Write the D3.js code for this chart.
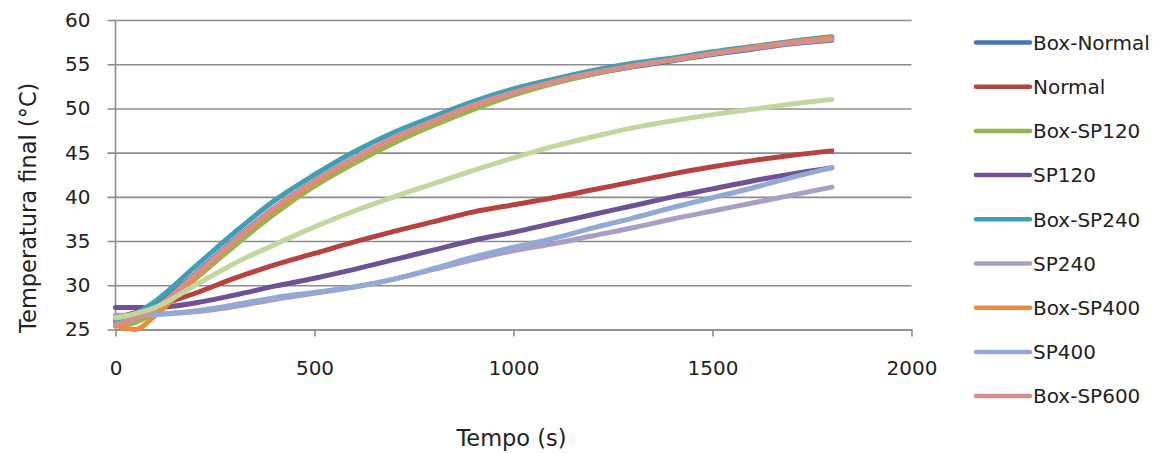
<!DOCTYPE html>
<html>
<head>
<meta charset="utf-8">
<script src="https://cdn.jsdelivr.net/npm/d3@7"></script>
<style>
    body { margin: 0; background: #fff; }
    #chart { width: 1166px; height: 454px; }
    text { font-family: "DejaVu Sans", sans-serif; fill: #222; }
</style>
</head>
<body>
<div id="chart"></div>
<script>

// time (s)
let times = [0, 50, 100, 200, 300, 400, 500, 600, 700, 800, 900, 1000, 1100, 1200, 1300, 1400, 1500, 1600, 1700, 1800]

// temperatures (°C)
let boxNormal = [25.7, 26.3, 27.6, 31.3, 35.2, 38.8, 41.8, 44.4, 46.6, 48.5, 50.2, 51.7, 52.9, 53.9, 54.7, 55.4, 56.1, 56.7, 57.3, 57.7]
let normal    = [26.3, 26.9, 27.6, 29.1, 30.8, 32.3, 33.6, 34.9, 36.1, 37.2, 38.3, 39.1, 39.9, 40.8, 41.7, 42.6, 43.4, 44.1, 44.7, 45.2]
let boxSP120  = [25.4, 25.8, 27.0, 30.7, 34.5, 38.1, 41.2, 43.8, 46.1, 48.1, 49.9, 51.5, 52.8, 53.9, 54.8, 55.5, 56.2, 56.9, 57.5, 58.0]
let sp120     = [27.5, 27.5, 27.5, 28.0, 28.9, 29.9, 30.8, 31.8, 32.9, 34.0, 35.1, 36.0, 37.0, 38.0, 39.0, 40.0, 40.9, 41.8, 42.6, 43.3]
let boxSP240  = [26.0, 26.8, 28.2, 32.1, 36.0, 39.6, 42.5, 45.1, 47.3, 49.1, 50.8, 52.2, 53.3, 54.3, 55.1, 55.7, 56.4, 57.0, 57.6, 58.1]
let sp240     = [26.6, 26.6, 26.7, 27.0, 27.6, 28.4, 29.1, 29.8, 30.7, 31.8, 32.9, 33.9, 34.7, 35.6, 36.5, 37.5, 38.4, 39.3, 40.2, 41.1]
let boxSP400  = [25.5, 25.0, 26.6, 30.9, 35.0, 38.6, 41.6, 44.3, 46.6, 48.5, 50.3, 51.8, 53.0, 54.0, 54.8, 55.5, 56.2, 56.9, 57.5, 58.0]
let sp400     = [26.4, 26.5, 26.7, 27.1, 27.8, 28.6, 29.2, 29.8, 30.7, 31.9, 33.2, 34.3, 35.3, 36.5, 37.6, 38.8, 39.9, 41.0, 42.2, 43.3]
let boxSP600  = [25.6, 26.2, 27.4, 31.2, 35.1, 38.8, 41.8, 44.4, 46.7, 48.6, 50.4, 51.8, 53.0, 54.0, 54.8, 55.5, 56.2, 56.8, 57.4, 57.8]
let sp600     = [26.3, 26.8, 27.5, 30.0, 32.5, 34.6, 36.6, 38.4, 40.0, 41.5, 43.0, 44.4, 45.7, 46.8, 47.8, 48.6, 49.3, 49.9, 50.5, 51.0]

let seriesNames  = ['Box-Normal', 'Normal', 'Box-SP120', 'SP120', 'Box-SP240', 'SP240', 'Box-SP400', 'SP400', 'Box-SP600', 'SP600']
let seriesValues = [boxNormal, normal, boxSP120, sp120, boxSP240, sp240, boxSP400, sp400, boxSP600, sp600]
let seriesColors = ['#4677b4', '#b8423f', '#93b655', '#6f5295', '#3f9fb6', '#ab9ec6', '#ee8a3c', '#92a9d6', '#d78f8b', '#c2d69e']

// only the first nine show up in the legend box
let legendCount = 9

let xTicks = [0, 500, 1000, 1500, 2000]
let yTicks = [25, 30, 35, 40, 45, 50, 55, 60]


class TempChart {

    constructor(parentElement) {
        this.parentElement = parentElement
        this.initVis()
    }

    initVis() {
        let vis = this

        vis.margin = {top: 20, right: 254.5, bottom: 124.5, left: 115.5}
        vis.width = 1166 - vis.margin.left - vis.margin.right
        vis.height = 454 - vis.margin.top - vis.margin.bottom

        vis.root = d3.select('#' + vis.parentElement).append('svg')
            .attr('width', 1166)
            .attr('height', 454)

        vis.svg = vis.root.append('g')
            .attr('transform', `translate (${vis.margin.left}, ${vis.margin.top})`)

        vis.x = d3.scaleLinear().domain([0, 2000]).range([0, vis.width])
        vis.y = d3.scaleLinear().domain([25, 60]).range([vis.height, 0])

        // gridlines (they poke out left of the axis like ticks)
        vis.svg.append('g')
            .attr('class', 'grid')
            .call(d3.axisLeft(vis.y).tickValues(yTicks).tickSize(-vis.width).tickSizeOuter(0).tickFormat(d => d))
            .call(g => g.select('.domain').remove())
            .call(g => g.selectAll('.tick line').attr('x1', -8).attr('stroke', '#8c8c8c').attr('stroke-width', 1.6))
            .call(g => g.selectAll('.tick text').attr('x', -25).style('font-size', '20px').attr('fill', '#222'))

        // y axis line
        vis.svg.append('line')
            .attr('x1', 0).attr('x2', 0)
            .attr('y1', 0).attr('y2', vis.height)
            .attr('stroke', '#8c8c8c').attr('stroke-width', 1.6)

        // x axis
        vis.svg.append('g')
            .attr('class', 'axis x-axis')
            .attr('transform', `translate (0, ${vis.height})`)
            .call(d3.axisBottom(vis.x).tickValues(xTicks).tickSize(7).tickSizeOuter(0).tickPadding(24).tickFormat(d => d))
            .call(g => g.select('.domain').attr('stroke', '#8c8c8c').attr('stroke-width', 1.6))
            .call(g => g.selectAll('.tick line').attr('stroke', '#8c8c8c').attr('stroke-width', 1.6))
            .call(g => g.selectAll('.tick text').style('font-size', '20px').attr('fill', '#222'))

        // axis titles
        vis.svg.append('text')
            .text('Tempo (s)')
            .attr('x', vis.width / 2 - 2)
            .attr('y', vis.height + 116)
            .attr('text-anchor', 'middle')
            .style('font-size', '22.5px')

        vis.svg.append('text')
            .text('Temperatura final (°C)')
            .attr('transform', `translate(${-80}, ${vis.height / 2 + 33}) rotate(-90)`)
            .attr('text-anchor', 'middle')
            .style('font-size', '22.5px')

        vis.drawLines()
        vis.drawLegend()
    }

    drawLines() {
        let vis = this

        let line = d3.line()
            .x((d, i) => vis.x(times[i]))
            .y(d => vis.y(d))
            .curve(d3.curveMonotoneX)

        vis.svg.append('g')
            .attr('class', 'lines')
            .selectAll('path')
            .data(seriesValues)
            .enter().append('path')
            .attr('d', d => line(d))
            .attr('fill', 'none')
            .attr('stroke', (d, i) => seriesColors[i])
            .attr('stroke-width', 5)
            .attr('stroke-linejoin', 'round')
            .attr('stroke-linecap', 'round')
    }

    drawLegend() {
        let vis = this

        let legend = vis.root.append('g')
            .attr('class', 'legend')
            .attr('transform', 'translate(976, 42.5)')

        let rows = legend.selectAll('g')
            .data(seriesNames.slice(0, legendCount))
            .enter().append('g')
            .attr('transform', (d, i) => `translate(0, ${i * 44.2})`)

        rows.append('line')
            .attr('x1', 0).attr('x2', 54)
            .attr('stroke', (d, i) => seriesColors[i])
            .attr('stroke-width', 4.5)
            .attr('stroke-linecap', 'round')

        rows.append('text')
            .text(d => d)
            .attr('x', 57)
            .attr('dy', '0.36em')
            .style('font-size', '20px')
    }
}

new TempChart('chart')

</script>
</body>
</html>
